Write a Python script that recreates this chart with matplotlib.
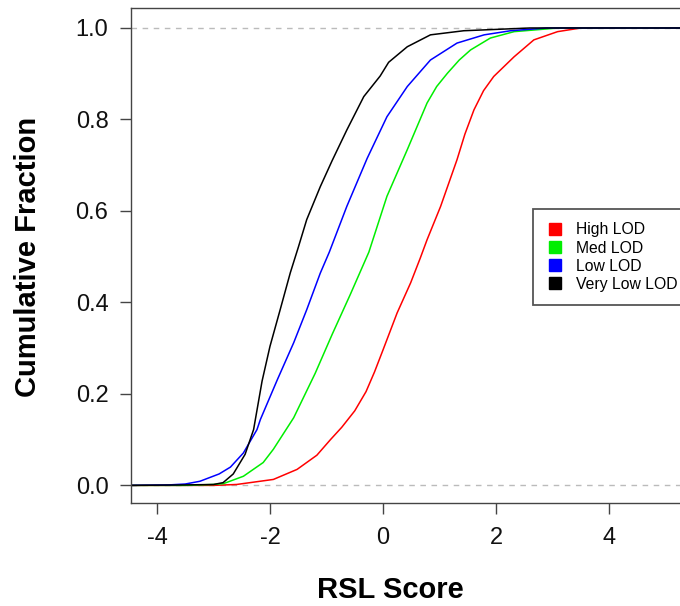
""" Cumulative fraction of RSL scores by LOD class
"""

import matplotlib
matplotlib.use('Agg')
import matplotlib.pyplot as plt

from matplotlib.lines import Line2D

plt.rcParams['font.family'] = ['Liberation Sans', 'DejaVu Sans']

# curve points (x = RSL score, y = cumulative fraction)
high_x = [-4.47, -3.0, -2.59, -1.94, -1.52, -1.17, -0.93, -0.73, -0.5, -0.3,
          -0.15, 0.0, 0.25, 0.49, 0.66, 0.78, 1.02, 1.31, 1.45, 1.61, 1.78,
          1.96, 2.32, 2.67, 3.09, 3.5, 6.4]
high_y = [0.0, 0.0, 0.002, 0.013, 0.035, 0.066, 0.1, 0.127, 0.163, 0.205,
          0.248, 0.296, 0.377, 0.443, 0.497, 0.537, 0.61, 0.712, 0.768, 0.821,
          0.863, 0.894, 0.937, 0.974, 0.992, 1.0, 1.0]

med_x = [-4.47, -3.5, -3.0, -2.82, -2.47, -2.12, -1.94, -1.58, -1.2, -0.9,
         -0.58, -0.25, 0.07, 0.43, 0.78, 0.95, 1.14, 1.35, 1.55, 1.9, 2.32,
         3.1, 6.4]
med_y = [0.0, 0.0, 0.002, 0.004, 0.02, 0.05, 0.079, 0.148, 0.245, 0.33,
         0.417, 0.51, 0.632, 0.734, 0.836, 0.872, 0.901, 0.93, 0.952, 0.978,
         0.992, 1.0, 1.0]

low_x = [-4.47, -3.8, -3.5, -3.24, -2.9, -2.7, -2.47, -2.23, -2.17, -1.87,
         -1.58, -1.35, -1.11, -0.95, -0.64, -0.28, 0.07, 0.43, 0.84, 1.31,
         1.79, 2.26, 2.9, 6.4]
low_y = [0.0, 0.001, 0.003, 0.009, 0.025, 0.04, 0.071, 0.122, 0.144, 0.231,
         0.312, 0.384, 0.464, 0.51, 0.61, 0.715, 0.806, 0.872, 0.93, 0.967,
         0.985, 0.994, 1.0, 1.0]

vlow_x = [-4.47, -3.5, -3.0, -2.83, -2.65, -2.44, -2.29, -2.14, -2.0, -1.82,
          -1.64, -1.5, -1.35, -1.11, -0.9, -0.64, -0.34, -0.05, 0.1, 0.43,
          0.84, 1.43, 2.02, 2.6, 6.4]
vlow_y = [0.0, 0.001, 0.002, 0.006, 0.025, 0.068, 0.122, 0.228, 0.304, 0.384,
          0.465, 0.52, 0.581, 0.653, 0.71, 0.777, 0.85, 0.895, 0.925, 0.959,
          0.985, 0.994, 0.997, 1.0, 1.0]

labels = ['High LOD', 'Med LOD', 'Low LOD', 'Very Low LOD']
colors = ['#ff0000', '#00ee00', '#0000ff', '#000000']
curves = [(high_x, high_y), (med_x, med_y), (low_x, low_y), (vlow_x, vlow_y)]

x_ticks = [-4, -2, 0, 2, 4]
y_ticks = [0.0, 0.2, 0.4, 0.6, 0.8, 1.0]

fig = plt.figure(figsize=(6.8, 6.06), dpi=100)
# plot region runs past the right edge of the picture, as in the reference
ax = fig.add_axes([130.7 / 680, 1 - 503 / 606, 0.9028, (503 - 8) / 606])
ax.set_xlim(-4.465, 6.4)
ax.set_ylim(-0.0385, 1.0437)

for yv in (0.0, 1.0):
    ax.axhline(yv, color='#bbbbbb', lw=1.0, dashes=(4, 4), zorder=1)

for (xs, ys), color in zip(curves, colors):
    ax.plot(xs, ys, color=color, lw=1.1, zorder=2)

for spine in ax.spines.values():
    spine.set_color('#444444')
    spine.set_linewidth(1.0)

ax.set_xticks(x_ticks)
ax.set_xticklabels(['{:g}'.format(v) for v in x_ticks])
ax.set_yticks(y_ticks)
ax.set_yticklabels(['{:.1f}'.format(v) for v in y_ticks])
ax.tick_params(direction='out', length=8, width=1, color='#444444',
               labelsize=17, labelcolor='#111111')
ax.tick_params(axis='y', pad=8)
ax.tick_params(axis='x', pad=9)

fig.text(28 / 680, 1 - 257 / 606, 'Cumulative Fraction', rotation=90,
         ha='center', va='center', fontsize=21, fontweight='bold')
fig.text(390 / 680, 1 - 590 / 606, 'RSL Score', ha='center', va='center',
         fontsize=21, fontweight='bold')

handles = [Line2D([0], [0], marker='s', linestyle='none', color=c,
                  markersize=8) for c in colors]
leg = ax.legend(handles, labels, loc='upper left',
                bbox_to_anchor=(533 / 680, 1 - 209 / 606),
                bbox_transform=fig.transFigure, fontsize=11.3,
                frameon=True, fancybox=False, framealpha=1,
                borderpad=0.86, handlelength=1.02, handletextpad=0.86,
                labelspacing=0.2, borderaxespad=0)
leg.get_frame().set_edgecolor('#555555')
leg.get_frame().set_linewidth(1.3)

fig.savefig('out.png', dpi=100)
